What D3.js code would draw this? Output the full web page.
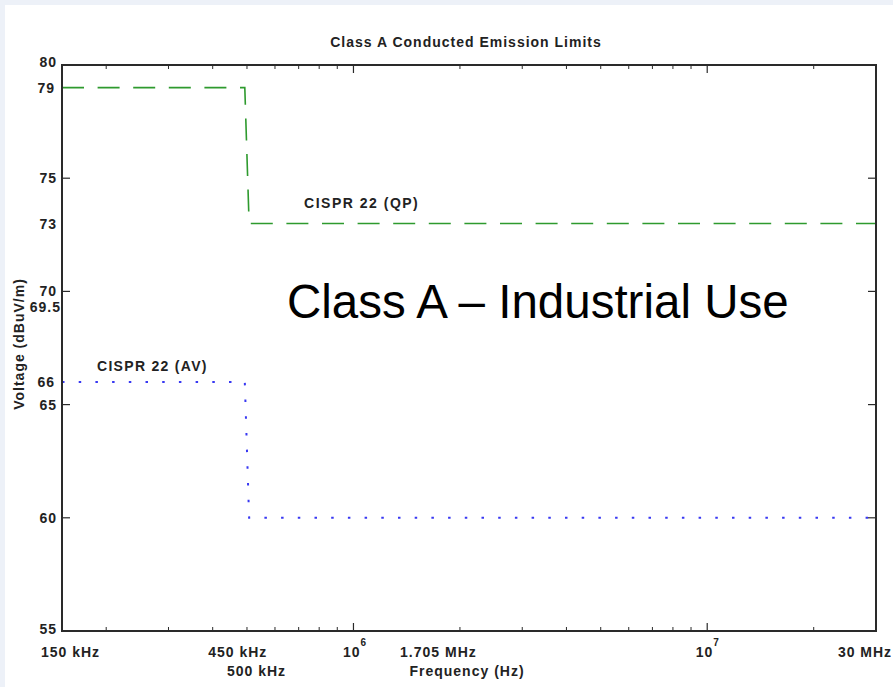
<!DOCTYPE html>
<html>
<head>
<meta charset="utf-8">
<script src="https://cdn.jsdelivr.net/npm/d3@7"></script>
<style>
  html, body { margin: 0; padding: 0; background: #edf1f8; }
  svg { display: block; }
  .small { font-family: "Liberation Sans", Arial, sans-serif; font-weight: bold; font-size: 14px; letter-spacing: 1px; fill: #222; }
</style>
</head>
<body>
<svg id="chart" width="893" height="687"></svg>
<script>
// ---- data ----
const titleText = "Class A Conducted Emission Limits";
const xAxisTitle = "Frequency (Hz)";
const yAxisTitle = "Voltage (dBuV/m)";
const annotationText = "Class A \u2013 Industrial Use";

const qpFreq = [150e3, 493e3, 507e3, 30e6];
const qpLevel = [79, 79, 73, 73];
const qpName = "CISPR 22 (QP)";

const avFreq = [150e3, 493e3, 507e3, 30e6];
const avLevel = [66, 66, 60, 60];
const avName = "CISPR 22 (AV)";

const xDomain = [150e3, 30e6];
const yDomain = [55, 80];
const yTickValues = [55, 60, 65, 70, 75, 80];
const yLabelValues = [80, 79, 75, 73, 70, 69.5, 66, 65, 60, 55];
const xMajorTicks = [1e6, 1e7];
const xMinorTicks = [2e5, 3e5, 4e5, 5e5, 6e5, 7e5, 8e5, 9e5,
                     2e6, 3e6, 4e6, 5e6, 6e6, 7e6, 8e6, 9e6, 2e7];
const xLabelValues = [150e3, 450e3, 500e3, 1e6, 1.705e6, 1e7, 30e6];
const xLabelTexts = ["150 kHz", "450 kHz", "500 kHz", "10|6", "1.705 MHz", "10|7", "30 MHz"];

// ---- layout (not data) ----
const W = 893, H = 687;
const pLeft = 62, pRight = 876, pTop = 65, pBottom = 631;
const yLabelDx = {80: 0, 79: -2, 75: 0, 73: 0, 70: 0, 69.5: 4, 66: -2, 65: 0, 60: 0, 55: 0};
const yLabelDy = {80: -3, 69.5: 4.5, 55: -2};
const xLabelDx = [8.5, 7, 9.5, 1, 3, 0, -11];
const xLabelRow = [0, 0, 1, 0, 0, 0, 0];

const svg = d3.select("#chart");
svg.append("rect").attr("x", 0).attr("y", 0).attr("width", W).attr("height", H).attr("fill", "#edf1f8");
svg.append("rect").attr("x", 5).attr("y", 5).attr("width", W - 5).attr("height", H - 5).attr("fill", "#ffffff");

const x = d3.scaleLog().domain(xDomain).range([pLeft, pRight]);
const y = d3.scaleLinear().domain(yDomain).range([pBottom, pTop]);

// ---- series ----
const line = d3.line().x(d => x(d[0])).y(d => y(d[1]));
const qpData = qpFreq.map((f, i) => [f, qpLevel[i]]);
const avData = avFreq.map((f, i) => [f, avLevel[i]]);

svg.append("path").datum(qpData).attr("d", line)
  .attr("fill", "none").attr("stroke", "#2e9a2e").attr("stroke-width", 1.6)
  .attr("stroke-dasharray", "22,13.6");
svg.append("path").datum(avData).attr("d", line)
  .attr("fill", "none").attr("stroke", "#3838f2").attr("stroke-width", 2)
  .attr("stroke-dasharray", "2.5,14.2");

// ---- axes frame ----
const axisColor = "#2a2a2a";
const frame = svg.append("g");
frame.selectAll("line.bminor").data(xMinorTicks).enter().append("line")
  .attr("x1", d => x(d)).attr("x2", d => x(d)).attr("y1", pBottom).attr("y2", pBottom - 4)
  .attr("stroke", axisColor).attr("stroke-width", 1);
frame.selectAll("line.bmajor").data(xMajorTicks).enter().append("line")
  .attr("x1", d => x(d)).attr("x2", d => x(d)).attr("y1", pBottom).attr("y2", pBottom - 8)
  .attr("stroke", axisColor).attr("stroke-width", 1.2);
frame.selectAll("line.tminor").data(xMinorTicks).enter().append("line")
  .attr("x1", d => x(d)).attr("x2", d => x(d)).attr("y1", pTop).attr("y2", pTop + 4)
  .attr("stroke", axisColor).attr("stroke-width", 1);
frame.selectAll("line.tmajor").data(xMajorTicks).enter().append("line")
  .attr("x1", d => x(d)).attr("x2", d => x(d)).attr("y1", pTop).attr("y2", pTop + 8)
  .attr("stroke", axisColor).attr("stroke-width", 1.2);
frame.selectAll("line.lt").data(yTickValues).enter().append("line")
  .attr("x1", pLeft).attr("x2", pLeft + 8).attr("y1", d => y(d)).attr("y2", d => y(d))
  .attr("stroke", axisColor).attr("stroke-width", 1.2);
frame.selectAll("line.rt").data(yTickValues).enter().append("line")
  .attr("x1", pRight).attr("x2", pRight - 8).attr("y1", d => y(d)).attr("y2", d => y(d))
  .attr("stroke", axisColor).attr("stroke-width", 1.2);
frame.append("rect").attr("x", pLeft).attr("y", pTop).attr("width", pRight - pLeft).attr("height", pBottom - pTop)
  .attr("fill", "none").attr("stroke", axisColor).attr("stroke-width", 2);

// ---- y labels ----
svg.selectAll("text.ylab").data(yLabelValues).enter().append("text")
  .attr("class", "small")
  .attr("x", d => 57 + (yLabelDx[d] || 0))
  .attr("y", d => y(d) + (yLabelDy[d] || 0))
  .attr("dy", "0.36em")
  .attr("text-anchor", "end")
  .text(d => d);

// ---- x labels ----
xLabelValues.forEach((v, i) => {
  const parts = xLabelTexts[i].split("|");
  const t = svg.append("text").attr("class", "small")
    .attr("x", x(v) + xLabelDx[i])
    .attr("y", xLabelRow[i] ? 676 : 657)
    .attr("text-anchor", "middle");
  t.append("tspan").text(parts[0]);
  if (parts.length > 1) {
    t.append("tspan").attr("dy", -11).style("font-size", "10px").style("letter-spacing", "0px").text(parts[1]);
  }
});

// ---- titles ----
svg.append("text").attr("class", "small").attr("x", (pLeft + pRight) / 2 - 3).attr("y", 47)
  .attr("text-anchor", "middle").text(titleText);
svg.append("text").attr("class", "small").attr("x", (pLeft + pRight) / 2 - 2).attr("y", 676)
  .attr("text-anchor", "middle").text(xAxisTitle);
svg.append("text").attr("class", "small")
  .attr("transform", "translate(24," + (y(67.5) - 4) + ") rotate(-90)")
  .attr("text-anchor", "middle").text(yAxisTitle);

// ---- series labels ----
svg.append("text").attr("class", "small").style("font-size", "14px").style("letter-spacing", "1.5px")
  .attr("x", x(qpFreq[2]) + 55).attr("y", y(qpLevel[2]) - 15).text(qpName);
svg.append("text").attr("class", "small").style("font-size", "14px").style("letter-spacing", "1.3px")
  .attr("x", x(avFreq[0]) + 35).attr("y", y(avLevel[0]) - 11).text(avName);

// ---- annotation ----
svg.append("text").attr("x", 287).attr("y", 318)
  .attr("font-family", "Liberation Sans, Arial, sans-serif").attr("font-size", "47.5px")
  .attr("fill", "#000").text(annotationText);
</script>
</body>
</html>
